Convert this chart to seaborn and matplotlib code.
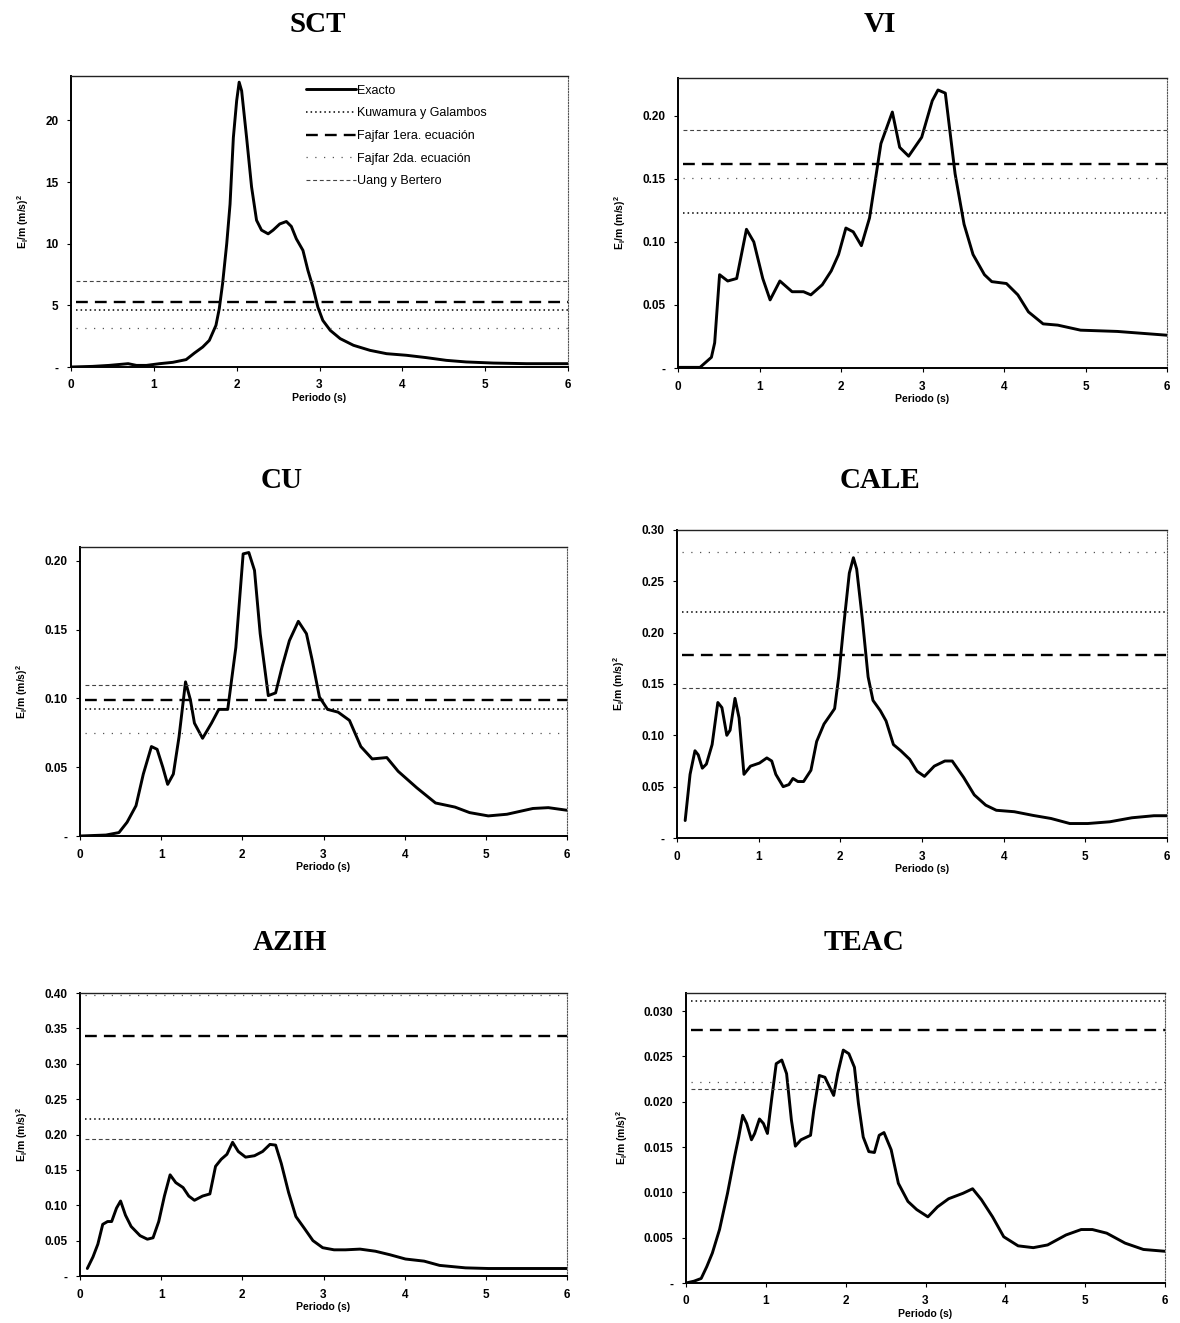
import matplotlib
matplotlib.use("Agg")
import matplotlib.pyplot as plt
import seaborn as sns
from matplotlib.ticker import FuncFormatter, MultipleLocator

# ---------------------------------------------------------------- data
stations = ["SCT", "VI", "CU", "CALE", "AZIH", "TEAC"]

# Espectros de energía de entrada "Exacto": periodo (s) y E_I/m
sct_t = [0, 0.26, 0.46, 0.69, 0.79, 0.91, 1.07, 1.23, 1.39, 1.49, 1.59, 1.67, 1.75, 1.79,
         1.83, 1.88, 1.92, 1.96, 2.00, 2.03, 2.06, 2.12, 2.18, 2.24, 2.30, 2.38, 2.44, 2.52,
         2.60, 2.66, 2.72, 2.80, 2.86, 2.92, 2.98, 3.04, 3.13, 3.25, 3.41, 3.61, 3.81, 4.05,
         4.29, 4.53, 4.77, 5.10, 5.50, 5.91, 6.0]
sct_e = [0, 0.05, 0.13, 0.27, 0.13, 0.13, 0.27, 0.38, 0.6, 1.13, 1.62, 2.16, 3.38, 4.73,
         6.76, 10.0, 13.2, 18.6, 21.6, 23.1, 22.4, 18.6, 14.6, 11.9, 11.1, 10.8, 11.1, 11.6,
         11.8, 11.4, 10.4, 9.46, 7.84, 6.49, 4.86, 3.78, 2.97, 2.30, 1.76, 1.35, 1.08, 0.95,
         0.76, 0.54, 0.41, 0.32, 0.27, 0.27, 0.27]

vi_t = [0, 0.27, 0.41, 0.45, 0.51, 0.61, 0.72, 0.84, 0.93, 1.04, 1.13, 1.25, 1.40, 1.54,
        1.63, 1.77, 1.88, 1.97, 2.06, 2.15, 2.25, 2.35, 2.49, 2.63, 2.72, 2.83, 2.99, 3.12,
        3.19, 3.28, 3.40, 3.51, 3.62, 3.76, 3.85, 4.03, 4.17, 4.30, 4.48, 4.66, 4.94, 5.39, 6.0]
vi_e = [0.0005, 0.0005, 0.0085, 0.02, 0.074, 0.069, 0.071, 0.110, 0.100, 0.071, 0.054,
        0.069, 0.0605, 0.0605, 0.058, 0.066, 0.077, 0.090, 0.111, 0.108, 0.097, 0.119,
        0.178, 0.203, 0.175, 0.168, 0.183, 0.212, 0.2205, 0.218, 0.154, 0.114, 0.090,
        0.074, 0.0685, 0.067, 0.058, 0.0445, 0.035, 0.034, 0.030, 0.029, 0.026]

cu_t = [0, 0.32, 0.48, 0.58, 0.69, 0.78, 0.88, 0.95, 1.02, 1.08, 1.15, 1.22, 1.30, 1.36,
        1.41, 1.51, 1.62, 1.71, 1.82, 1.92, 2.01, 2.08, 2.15, 2.22, 2.32, 2.41, 2.49, 2.58,
        2.69, 2.79, 2.86, 2.95, 3.05, 3.18, 3.32, 3.46, 3.60, 3.78, 3.92, 4.15, 4.38, 4.62,
        4.80, 5.03, 5.26, 5.58, 5.77, 6.0]
cu_e = [0, 0.0007, 0.0025, 0.010, 0.022, 0.045, 0.065, 0.063, 0.050, 0.0375, 0.045, 0.072,
        0.112, 0.099, 0.082, 0.071, 0.082, 0.092, 0.092, 0.137, 0.205, 0.206, 0.193, 0.147,
        0.102, 0.104, 0.123, 0.142, 0.156, 0.147, 0.128, 0.101, 0.092, 0.090, 0.084, 0.065,
        0.056, 0.057, 0.047, 0.035, 0.024, 0.021, 0.017, 0.0146, 0.0158, 0.020, 0.0206, 0.0187]

cale_t = [0.10, 0.16, 0.22, 0.26, 0.31, 0.36, 0.43, 0.50, 0.55, 0.61, 0.65, 0.71, 0.76,
          0.82, 0.90, 1.01, 1.10, 1.16, 1.21, 1.30, 1.37, 1.42, 1.48, 1.55, 1.64, 1.71,
          1.80, 1.87, 1.93, 1.98, 2.04, 2.11, 2.16, 2.20, 2.27, 2.34, 2.40, 2.49, 2.56,
          2.65, 2.74, 2.85, 2.94, 3.03, 3.15, 3.28, 3.37, 3.51, 3.64, 3.78, 3.91, 4.13,
          4.36, 4.58, 4.81, 5.03, 5.30, 5.57, 5.84, 6.0]
cale_e = [0.017, 0.062, 0.085, 0.081, 0.068, 0.072, 0.091, 0.132, 0.127, 0.100, 0.105,
          0.136, 0.117, 0.062, 0.070, 0.073, 0.078, 0.075, 0.062, 0.050, 0.052, 0.058,
          0.055, 0.055, 0.066, 0.094, 0.111, 0.119, 0.126, 0.157, 0.206, 0.258, 0.273,
          0.262, 0.213, 0.157, 0.134, 0.124, 0.114, 0.091, 0.085, 0.0766, 0.065, 0.060,
          0.070, 0.075, 0.075, 0.059, 0.042, 0.032, 0.027, 0.0256, 0.022, 0.019, 0.0141,
          0.0141, 0.0158, 0.0197, 0.0217, 0.0217]

azih_t = [0.09, 0.16, 0.22, 0.28, 0.34, 0.39, 0.45, 0.50, 0.56, 0.63, 0.74, 0.83, 0.90,
          0.97, 1.04, 1.11, 1.18, 1.27, 1.34, 1.41, 1.51, 1.60, 1.67, 1.74, 1.81, 1.88,
          1.95, 2.04, 2.15, 2.25, 2.34, 2.41, 2.48, 2.57, 2.66, 2.76, 2.87, 2.99, 3.13,
          3.27, 3.45, 3.64, 3.82, 4.01, 4.24, 4.43, 4.75, 5.03, 6.0]
azih_e = [0.0106, 0.027, 0.045, 0.073, 0.077, 0.077, 0.096, 0.106, 0.086, 0.070, 0.057,
          0.052, 0.054, 0.077, 0.113, 0.143, 0.132, 0.125, 0.113, 0.107, 0.113, 0.116,
          0.155, 0.165, 0.172, 0.189, 0.176, 0.168, 0.170, 0.176, 0.186, 0.185, 0.159,
          0.118, 0.084, 0.068, 0.050, 0.040, 0.037, 0.037, 0.038, 0.035, 0.030, 0.024,
          0.021, 0.015, 0.0115, 0.0106, 0.0106]

teac_t = [0, 0.10, 0.19, 0.26, 0.33, 0.42, 0.52, 0.61, 0.66, 0.71, 0.76, 0.82, 0.86, 0.92,
          0.97, 1.02, 1.07, 1.13, 1.20, 1.26, 1.32, 1.37, 1.44, 1.56, 1.60, 1.67, 1.74,
          1.80, 1.85, 1.90, 1.97, 2.04, 2.11, 2.16, 2.22, 2.29, 2.36, 2.42, 2.48, 2.57,
          2.66, 2.78, 2.89, 3.03, 3.15, 3.29, 3.47, 3.59, 3.70, 3.84, 3.98, 4.16, 4.35,
          4.53, 4.76, 4.95, 5.09, 5.27, 5.50, 5.73, 6.0]
teac_e = [0, 0.0002, 0.0005, 0.0018, 0.0033, 0.0059, 0.0099, 0.0140, 0.0161, 0.0185,
          0.0176, 0.0158, 0.0165, 0.0181, 0.0176, 0.0165, 0.0201, 0.0242, 0.0246, 0.0231,
          0.0180, 0.0151, 0.0158, 0.0163, 0.0190, 0.0229, 0.0227, 0.0216, 0.0207, 0.0231,
          0.0257, 0.0253, 0.0238, 0.0198, 0.0161, 0.0145, 0.0144, 0.0163, 0.0166, 0.0147,
          0.0110, 0.0090, 0.0081, 0.0073, 0.0084, 0.0093, 0.0099, 0.0104, 0.0092, 0.0073,
          0.0051, 0.0041, 0.0039, 0.0042, 0.0053, 0.0059, 0.0059, 0.0055, 0.0044, 0.0037,
          0.0035]

# Estimaciones constantes (una por estación, mismo orden que `stations`)
kuwamura = [4.65, 0.123, 0.092, 0.220, 0.222, 0.0311]
fajfar1 = [5.27, 0.162, 0.099, 0.178, 0.339, 0.0279]
fajfar2 = [3.19, 0.151, 0.075, 0.279, 0.397, 0.0222]
uang = [6.95, 0.189, 0.110, 0.146, 0.194, 0.0214]

periods = [sct_t, vi_t, cu_t, cale_t, azih_t, teac_t]
energies = [sct_e, vi_e, cu_e, cale_e, azih_e, teac_e]

y_max = [23.6, 0.23, 0.21, 0.30, 0.40, 0.032]
y_step = [5, 0.05, 0.05, 0.05, 0.05, 0.005]
y_fmt = ["{:.0f}", "{:.2f}", "{:.2f}", "{:.2f}", "{:.2f}", "{:.3f}"]

# ------------------------------------------------------------- styling
sns.set_theme(style="white")
plt.rcParams["font.family"] = ["Liberation Sans", "DejaVu Sans"]
plt.rcParams["mathtext.fontset"] = "custom"
plt.rcParams["mathtext.rm"] = "Liberation Sans:bold"
plt.rcParams["mathtext.it"] = "Liberation Sans:bold"
plt.rcParams["mathtext.bf"] = "Liberation Sans:bold"
for key in ("text.color", "axes.labelcolor", "xtick.color", "ytick.color"):
    plt.rcParams[key] = "black"

W, H = 1180, 1323
fig = plt.figure(figsize=(W / 100, H / 100), dpi=100)
fig.patch.set_facecolor("white")

# axes boxes in pixels: left, top, right, bottom
boxes = [
    (71, 76, 568, 367),
    (678, 78, 1167, 368),
    (80, 547, 567, 836),
    (677, 530, 1167, 838),
    (80, 993, 567, 1276),
    (686, 993, 1165, 1283),
]
title_pos = [(318, 24), (880, 24), (282, 480), (880, 480), (290, 942), (864, 942)]

ref_styles = {
    "Kuwamura y Galambos": dict(color="black", lw=1.1, dashes=(1.0, 2.0)),
    "Fajfar 1era. ecuación": dict(color="black", lw=1.7, dashes=(5, 3)),
    "Fajfar 2da. ecuación": dict(color="#555555", lw=0.9, dashes=(1.0, 6.0)),
    "Uang y Bertero": dict(color="#444444", lw=0.8, dashes=(3.5, 2.5)),
}
ref_values = {
    "Kuwamura y Galambos": kuwamura,
    "Fajfar 1era. ecuación": fajfar1,
    "Fajfar 2da. ecuación": fajfar2,
    "Uang y Bertero": uang,
}

for i, name in enumerate(stations):
    l, t, r, b = boxes[i]
    ax = fig.add_axes([l / W, 1 - b / H, (r - l) / W, (b - t) / H])
    ax.set_facecolor("white")

    sns.lineplot(x=periods[i], y=energies[i], ax=ax, color="black", lw=2.1,
                 label="Exacto", legend=False)
    for lab, st in ref_styles.items():
        ax.axhline(ref_values[lab][i], xmin=0.01, xmax=1.0, label=lab, **st)

    ax.set_xlim(0, 6)
    ax.set_ylim(0, y_max[i])
    ax.xaxis.set_major_locator(MultipleLocator(1))
    ax.yaxis.set_major_locator(MultipleLocator(y_step[i]))
    fmt = y_fmt[i]
    ax.yaxis.set_major_formatter(FuncFormatter(
        lambda v, p, f=fmt: "-" if abs(v) < 1e-12 else f.format(v)))
    ax.xaxis.set_major_formatter(FuncFormatter(lambda v, p: f"{v:.0f}"))
    for lbl in ax.get_xticklabels() + ax.get_yticklabels():
        lbl.set_fontsize(8.5)
        lbl.set_fontweight("bold")
    ax.tick_params(axis="both", which="major", length=3, width=0.8, direction="out",
                   pad=6, left=True, bottom=True, labelsize=8.5, colors="black")

    for side in ("left", "bottom"):
        ax.spines[side].set_color("black")
        ax.spines[side].set_linewidth(1.4)
    ax.spines["top"].set_color("#222222")
    ax.spines["top"].set_linewidth(1.0)
    ax.spines["right"].set_color("#555555")
    ax.spines["right"].set_linewidth(0.8)
    ax.spines["right"].set_linestyle((0, (1, 1.5)))

    ax.set_xlabel("Periodo (s)", fontsize=7.5, fontweight="bold", labelpad=1, color="black")
    ax.set_ylabel(r"E$_{I}$/m (m/s)$^{2}$", fontsize=7.5, fontweight="bold", labelpad=10,
                  color="black")
    ax.grid(False)

    tx, ty = title_pos[i]
    fig.text(tx / W, 1 - ty / H, name, ha="center", va="center", color="black",
             fontsize=21, fontweight="bold", family=["Liberation Serif", "DejaVu Serif"])

    if i == 0:
        leg = ax.legend(loc="upper left", bbox_to_anchor=(0.455, 1.0), frameon=False,
                        fontsize=9, handlelength=4.0, handletextpad=0.1, labelspacing=0.85,
                        borderaxespad=0.3)
        for txt in leg.get_texts():
            txt.set_color("black")

fig.savefig("out.png", dpi=100, facecolor="white")
